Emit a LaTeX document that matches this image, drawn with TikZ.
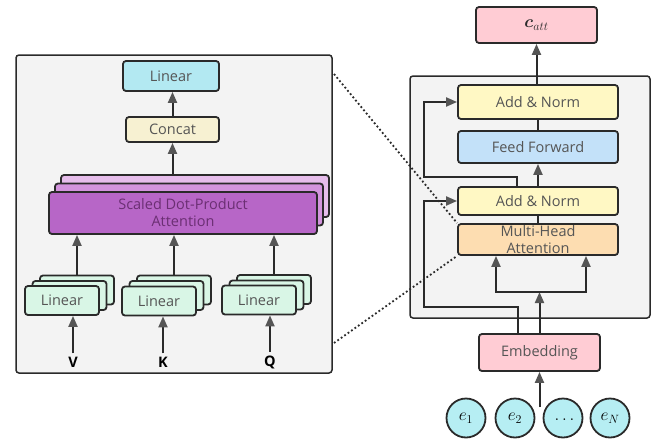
\documentclass[tikz,border=0pt]{standalone}
\usepackage{fontspec}
\setmainfont{Open Sans}
\usepackage{amsmath}
\usepackage{bm}
\usepackage{tikz}
\usetikzlibrary{arrows.meta,positioning,calc}
\definecolor{panelgray}{HTML}{F3F3F3}
\definecolor{linegray}{HTML}{2A2A2A}
\definecolor{tipgray}{HTML}{555555}
\definecolor{txtgray}{HTML}{555555}
\definecolor{lincyan}{HTML}{B3E9F2}
\definecolor{concatyel}{HTML}{F7F1D2}
\definecolor{sdpfront}{HTML}{B766C7}
\definecolor{sdpmid}{HTML}{D394DD}
\definecolor{sdpback}{HTML}{E6BDEB}
\definecolor{sdptxt}{HTML}{6B2F73}
\definecolor{mint}{HTML}{D9F6E6}
\definecolor{cattpink}{HTML}{FFCCD4}
\definecolor{addyel}{HTML}{FFF8C4}
\definecolor{ffblue}{HTML}{C3E1F9}
\definecolor{mhaorange}{HTML}{FDDDB1}
\definecolor{tokcyan}{HTML}{B6EEF3}
\tikzset{%
  arr/.style = {-{Triangle[width=9pt,length=11pt,color=tipgray]},
        line width=2pt,draw=linegray},
  ln/.style = {line width=2pt,draw=linegray},
  b/.style = {rectangle,draw=linegray,line width=1.8pt,rounded corners=3pt,
        text=txtgray,align=center,inner sep=0pt,
        font=\fontsize{14.5}{17}\selectfont},
  lin/.style = {b,fill=mint,minimum width=74pt,minimum height=29pt},
  sdp/.style = {b,minimum width=268pt,minimum height=42pt},
  enc/.style = {b,minimum width=160pt},
  tok/.style = {circle,draw=linegray,line width=1.8pt,fill=tokcyan,
        minimum size=39pt,inner sep=0pt,font=\fontsize{18}{18}\selectfont},
  panel/.style = {rectangle,draw=linegray,line width=1.5pt,rounded corners=3pt,
        fill=panelgray,inner sep=0pt},
  inp/.style = {font=\bfseries\fontsize{14.5}{14.5}\selectfont,text=black}
}

\begin{document}
\begin{tikzpicture}[x=1pt,y=-1pt]
        \clip (0,0) rectangle (651,442);
        % panels
        \node[panel,minimum width=316pt,minimum height=318pt] (mhpanel) at (174,214) {};
        \node[panel,minimum width=240pt,minimum height=242pt] (encpanel) at (530,197) {};
        % multi-head attention, inside
        \node[b,fill=lincyan,minimum width=96pt,minimum height=30pt] (lintop) at (171,76) {Linear};
        \node[b,fill=concatyel,minimum width=93pt,minimum height=25pt] (concat) at (172.5,129.5) {Concat};
        \node[sdp,fill=sdpback] (sdp3) at (195,196) {};
        \node[sdp,fill=sdpmid] (sdp2) at (189,204.5) {};
        \node[sdp,fill=sdpfront,text=sdptxt] (sdp1) at (183,213) {Scaled Dot-Product\\Attention};
        \node[lin] (v3) at (77,290) {};
        \node[lin] (v2) at (69.5,295.5) {};
        \node[lin] (v1) at (62,300.5) {Linear};
        \node[lin] (k3) at (174,290) {};
        \node[lin] (k2) at (166.5,295.5) {};
        \node[lin] (k1) at (159,301) {Linear};
        \node[lin] (q3) at (274,289.5) {};
        \node[lin] (q2) at (266.5,295) {};
        \node[lin] (q1) at (259,300) {Linear};
        \node[inp] (vin) at (73,362) {V};
        \node[inp] (kin) at (163,362) {K};
        \node[inp] (qin) at (270,362) {Q};
        % multi-head attention, edges
        \draw[arr] (vin.north) -- (vin.north |- v1.south);
        \draw[arr] (kin.north) -- (kin.north |- k1.south);
        \draw[arr] (qin.north) -- (qin.north |- q1.south);
        \draw[arr] (v3.north) -- (v3.north |- sdp1.south);
        \draw[arr] (k3.north) -- (k3.north |- sdp1.south);
        \draw[arr] (q3.north) -- (q3.north |- sdp1.south);
        \draw[arr] (concat.south |- sdp3.north) -- (concat.south);
        \draw[arr] (concat.north) -- (lintop.south -| concat.north);
        % encoder states
        \node[b,fill=cattpink,minimum width=121pt,minimum height=36pt,text=linegray,font=\fontsize{18}{18}\selectfont] (catt) at (536.5,25) {$\bm{c}_{att}$};
        \node[enc,fill=addyel,minimum height=34pt] (an2) at (538,102) {Add \& Norm};
        \node[enc,fill=ffblue,minimum height=32pt] (ff) at (538,147) {Feed Forward};
        \node[enc,fill=addyel,minimum height=28pt] (an1) at (538,201) {Add \& Norm};
        \node[enc,fill=mhaorange,minimum height=31pt] (mha) at (538,239.5) {Multi-Head\\Attention};
        \node[b,fill=cattpink,minimum width=121pt,minimum height=37pt] (emb) at (539.5,352.5) {Embedding};
        \node[tok] (e1) at (466,418) {$e_1$};
        \node[tok] (e2) at (515,418) {$e_2$};
        \node[tok] (edots) at (563,418) {$\vphantom{e_1}\ldots$};
        \node[tok] (eN) at (610,418) {$e_N$};
        \coordinate (split) at (539.5,292);
        \coordinate (tokin) at (539.5,407);
        % encoder transitions
        \draw[arr] (tokin) -- (emb.south);
        \draw[arr] (emb.north) -- (split);
        \draw[arr] (split) -| ([xshift=-42pt]mha.south);
        \draw[arr] (split) -| ([xshift=48pt]mha.south);
        \draw[ln] (mha.north) -- (an1.south);
        \draw[arr] (an1.north) -- (ff.south);
        \draw[ln] (ff.north) -- (an2.south);
        \draw[arr] (catt.south |- an2.north) -- (catt.south);
        \draw[arr] ([xshift=-22pt]emb.north) |- (424,307) |- (an1.west);
        \draw[arr] ([xshift=-21pt]an1.north) |- (424,177) |- (an2.west);
        % zoom lines
        \draw[linegray,line width=1.8pt,dash pattern=on 1.8pt off 2.4pt] (334,74) -- (mha.north west);
        \draw[linegray,line width=1.8pt,dash pattern=on 1.8pt off 2.4pt] (334,343) -- (mha.south west);
    \end{tikzpicture}
\end{document}
